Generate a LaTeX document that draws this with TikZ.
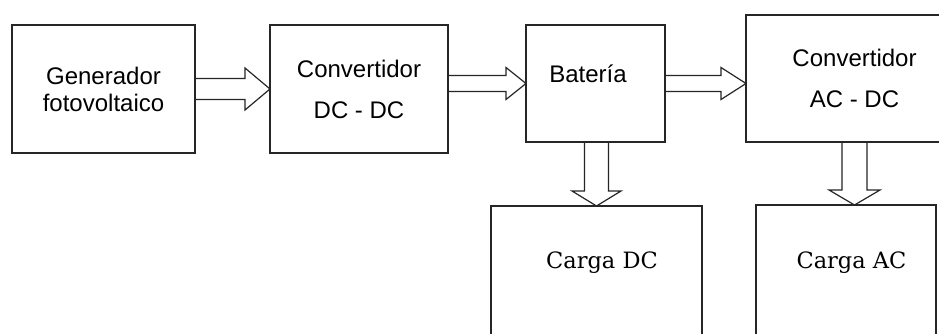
\documentclass[tikz,border=0pt]{standalone}
\usepackage{fontspec}
\setmainfont{Liberation Sans}
\newfontfamily\loadfont{DejaVu Serif}
\usetikzlibrary{positioning, calc}

\begin{document}
\begin{tikzpicture}[
	x=1pt, y=-1pt,
	% Define styles
	block/.style={rectangle, draw=black!85, line width=1.2pt, inner sep=0pt, outer sep=0pt, align=center, font=\fontsize{24}{27}\selectfont},
	blocktext/.style={anchor=base, font=\fontsize{24}{27}\selectfont},
	loadtext/.style={anchor=base, font=\loadfont\fontsize{22.5}{27}\selectfont},
	blockarrow/.style={draw=black!85, line width=1.2pt, line join=miter}
	]
	
	% Page frame
	\useasboundingbox (0,0) rectangle (939,334);
	\fill[white] (0,0) rectangle (939,334);
	\clip (0,0) rectangle (939,334);
	
	% 1. Top row
	\node[block, minimum width=183pt, minimum height=128pt] (gen) at (103.5,89) {Generador\\fotovoltaico};
	\node[block, minimum width=178pt, minimum height=128pt, right=75pt of gen] (dcdc) {Convertidor\\[14pt]DC - DC};
	\node[block, minimum width=139pt, minimum height=117pt, right=78pt of dcdc, yshift=5.5pt] (bat) {};
	\node[blocktext] (battxt) at ($(bat.north)+(-7.5,58)$) {Batería};
	\node[block, minimum width=217pt, minimum height=127pt, right=81pt of bat, yshift=5pt] (acdc) {Convertidor\\[14pt]AC - DC};
	
	% 2. Loads
	\node[block, minimum width=211pt, minimum height=200pt, below=64pt of bat, xshift=1pt] (cdc) {};
	\node[loadtext] (cdctxt) at ($(cdc.north)+(5.5,62)$) {Carga DC};
	\node[block, minimum width=180pt, minimum height=200pt, below=63pt of acdc, xshift=-8.5pt] (cac) {};
	\node[loadtext] (cactxt) at ($(cac.north)+(5.5,63)$) {Carga AC};
	
	% 3. Block arrows along the top row
	\draw[blockarrow] ($(gen.east)+(0,-10.5)$) -- ++(50,0) -- ++(0,-10.5) -- (dcdc.west) -- ++(-25,21) -- ++(0,-10.5) -- ++(-50,0);
	\draw[blockarrow] ($(dcdc.east |- bat.west)+(0,-8)$) -- ++(58,0) -- ++(0,-8) -- (bat.west) -- ++(-20,16) -- ++(0,-8) -- ++(-58,0);
	\draw[blockarrow] ($(bat.east)+(0,-8)$) -- ++(56,0) -- ++(0,-8) -- (bat.east -| acdc.west) -- ++(-25,16) -- ++(0,-8) -- ++(-56,0);
	
	% 4. Block arrows down to the loads
	\draw[blockarrow] ($(bat.south -| cdc.north)+(-12,0)$) -- ++(0,49) -- ++(-12.5,0) -- (cdc.north) -- ++(24.5,-15) -- ++(-12.5,0) -- ++(0,-49);
	\draw[blockarrow] ($(acdc.south)+(-12.5,0)$) -- ++(0,48) -- ++(-13,0) -- (acdc.south |- cac.north) -- ++(25.5,-15) -- ++(-13,0) -- ++(0,-48);
\end{tikzpicture}
\end{document}
